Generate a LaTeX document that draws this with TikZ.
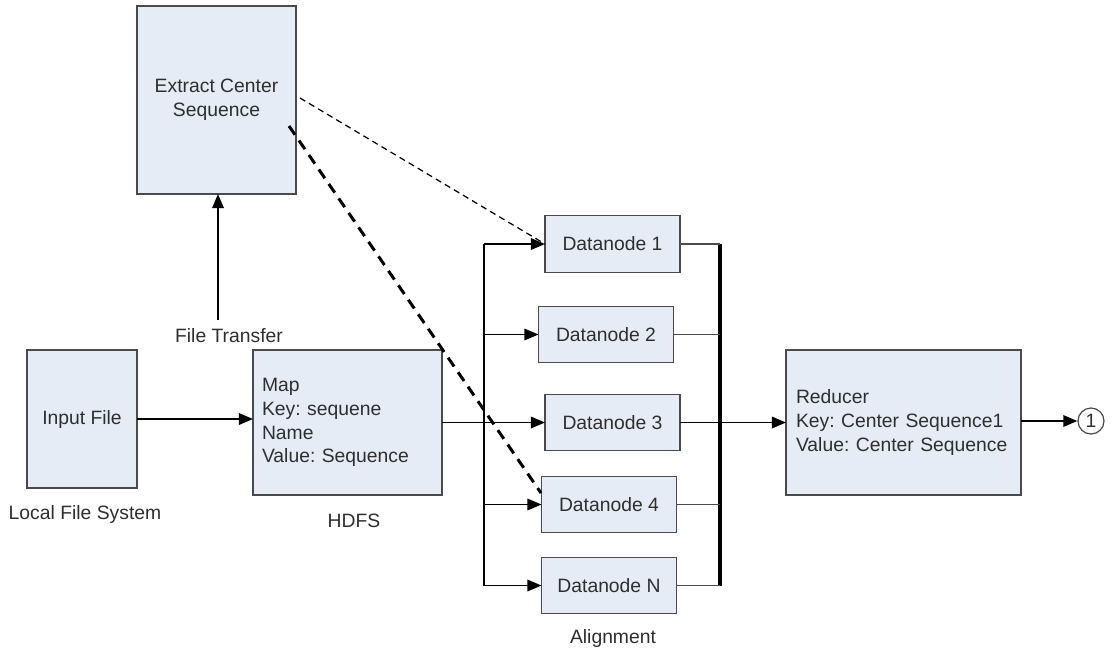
\documentclass[tikz,border=0pt]{standalone}
\usepackage{fontspec}
\setmainfont{Liberation Sans}
\usetikzlibrary{arrows.meta}
\definecolor{boxfill}{HTML}{E6ECF6}
\definecolor{boxline}{HTML}{4A4A4A}
\definecolor{textgray}{HTML}{2E2E2E}
\frenchspacing

\begin{document}
\begin{tikzpicture}[x=0.02cm, y=-0.02cm,
    box/.style={draw=boxline, fill=boxfill, line width=0.8pt, inner sep=0pt, outer sep=0pt,
        text=textgray, font=\fontsize{11}{13.6}\selectfont, align=center},
    dn/.style={box, minimum width=2.7cm, minimum height=1.13cm},
    plain/.style={text=textgray, font=\fontsize{11}{13.6}\selectfont},
    arr/.style={-{Triangle[length=8pt,width=6.5pt]}, line width=1.1pt},
    stub/.style={line width=0.8pt, draw=black!70}]
    \useasboundingbox (0,0) rectangle (1113,653);

    \node[box, minimum width=3.18cm, minimum height=3.76cm] (extract) at (216.5,100) {Extract Center\\Sequence};
    \node[box, minimum width=2.2cm, minimum height=2.76cm] (input) at (82,419) {Input File};
    \node[box, minimum width=3.78cm, minimum height=2.9cm, text width=3.42cm, align=left] (map) at (347.5,422.5)
        {Map\\Key: sequene\\Name\\Value: Sequence};

    \node[dn] (dn1) at (612.5,244) {Datanode 1};
    \node[dn] (dn2) at (606,334.5) {Datanode 2};
    \node[dn] (dn3) at (612.5,422.5) {Datanode 3};
    \node[dn] (dn4) at (609,504.5) {Datanode 4};
    \node[dn] (dnN) at (609,585.5) {Datanode N};

    \node[box, minimum width=4.7cm, minimum height=2.9cm, text width=4.3cm, align=left] (reducer) at (903.5,422.5)
        {Reducer\\Key: Center Sequence1\\Value: Center Sequence};
    \node[circle, draw=boxline, line width=0.7pt, minimum size=0.52cm, inner sep=0pt, plain] (out) at (1091,421) {1};

    % labels
    \node[plain] (ftlabel) at (229,336) {File Transfer};
    \node[plain] (lfslabel) at (85,514) {Local File System};
    \node[plain] (hdfslabel) at (354,521) {HDFS};
    \node[plain] (alignlabel) at (613,638) {Alignment};

    % file transfer and map
    \coordinate (ftstart) at (218,320);
    \draw[arr] (ftstart) -- (ftstart |- extract.south);
    \draw[arr] (input.east) -- (input.east -| map.west);
    \draw[arr] (map) -- (dn3);

    % split to the datanodes
    \coordinate (bustop) at (484,244);
    \coordinate (busbot) at (484,585.5);
    \draw[line width=1.1pt] (bustop) -- (busbot);
    \draw[arr] (bustop) -- (bustop -| dn1.west);
    \foreach \n in {dn2,dn4,dnN}
        \draw[arr] (bustop |- \n) -- (\n);

    % collect to the reducer
    \coordinate (bartop) at (720,244);
    \coordinate (barbot) at (720,585.5);
    \draw[line width=2.3pt] (bartop) -- (barbot);
    \foreach \n in {dn1,dn2,dn4,dnN}
        \draw[stub] (\n.east) -- (bartop |- \n.east);
    \draw[arr] (dn3.east) -- (dn3.east -| reducer.west);
    \draw[arr] (reducer.east |- out) -- (out);

    % center sequence sent out
    \coordinate (thinA) at (300,98);
    \draw[dash pattern=on 3.5pt off 2.5pt, line width=0.7pt] (thinA) -- (dn1.west);
    \coordinate (thickA) at (289,126);
    \coordinate (thickB) at (541,493);
    \draw[dash pattern=on 6pt off 4pt, line width=1.7pt] (thickA) -- (thickB);
\end{tikzpicture}
\end{document}
